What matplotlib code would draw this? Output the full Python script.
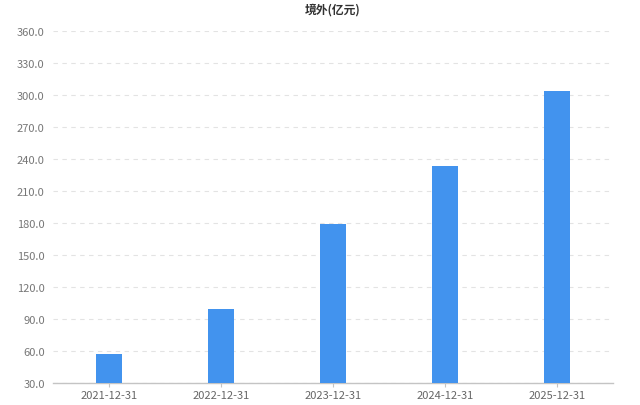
import matplotlib
matplotlib.use("Agg")
import matplotlib.pyplot as plt
import numpy as np

plt.rcParams['font.family'] = ['Noto Sans CJK SC', 'DejaVu Sans']

categories = ["2021-12-31", "2022-12-31", "2023-12-31", "2024-12-31", "2025-12-31"]
values = [57.5, 99.4, 178.6, 233.2, 304.0]
yticks = [30, 60, 90, 120, 150, 180, 210, 240, 270, 300, 330, 360]
title = "境外(亿元)"

fig = plt.figure(figsize=(6.4, 4.06), dpi=100)
ax = fig.add_axes([53/640, 22/406, 560/640, 352/406])

x = np.arange(len(categories))
ax.bar(x, values, width=0.226, color="#4293ee", zorder=3, bottom=0)
ax.set_xlim(-0.5, len(categories) - 0.5)
ax.set_ylim(30, 360)
ax.set_yticks(yticks)
ax.set_yticklabels([f"{v:.1f}" for v in yticks])
ax.set_xticks(x)
ax.set_xticklabels(categories)

ax.grid(axis="y", color="#e3e3e3", linestyle=(0, (4, 4)), linewidth=0.8, zorder=0)
for s in ["top", "right", "left"]:
    ax.spines[s].set_visible(False)
ax.spines["bottom"].set_color("#c4c4c4")
ax.spines["bottom"].set_linewidth(1)
ax.tick_params(axis="y", length=0, pad=6, labelsize=8, labelcolor="#777777")
ax.tick_params(axis="x", length=3, color="#c4c4c4", pad=2, labelsize=8, labelcolor="#666666")

fig.text(333/640, 1 - 10/406, title, ha="center", va="center", fontsize=8.5, fontweight="bold", color="#333333")

fig.savefig("out.png", dpi=100)
